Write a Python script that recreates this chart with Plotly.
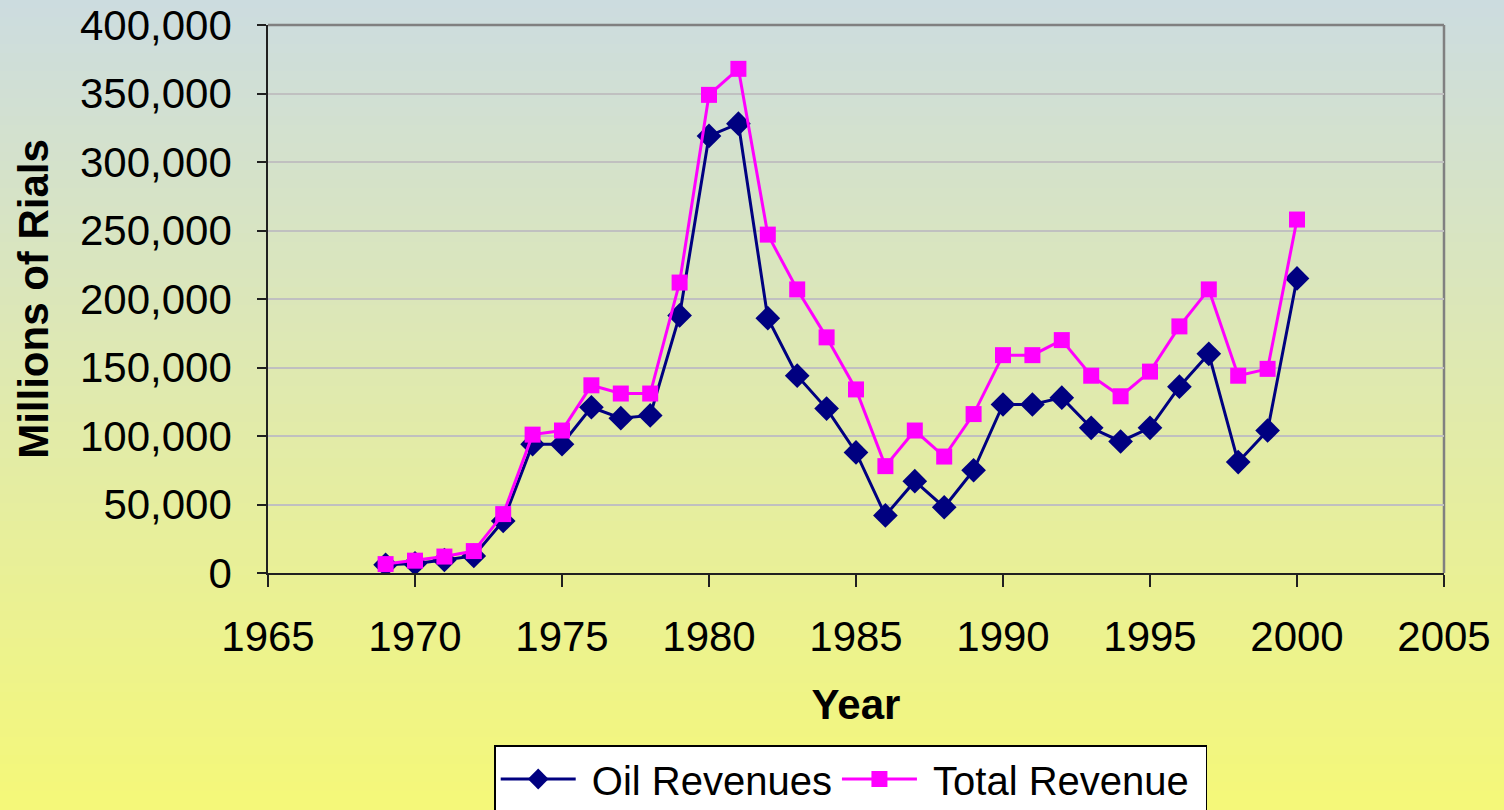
import plotly.graph_objects as go

years = list(range(1969, 2001))
oil_revenues = [6000, 7000, 9500, 12500, 38000, 94000, 94000, 121000, 113000, 115000,
                188000, 319000, 328000, 186000, 144000, 120000, 88000, 42000, 67000, 48000,
                75000, 123000, 123000, 128000, 106000, 96000, 106000, 136000, 160000, 81000,
                104000, 215000]
total_revenue = [6500, 9000, 12000, 16000, 43000, 101000, 104000, 137000, 131000, 131000,
                 212000, 349000, 368000, 247000, 207000, 172000, 134000, 78000, 104000, 85000,
                 116000, 159000, 159000, 170000, 144000, 129000, 147000, 180000, 207000, 144000,
                 149000, 258000]
x_ticks = [1965, 1970, 1975, 1980, 1985, 1990, 1995, 2000, 2005]
y_ticks = [0, 50000, 100000, 150000, 200000, 250000, 300000, 350000, 400000]

W, H = 1504, 810
L, R, T, B = 268, 60, 25, 237
pw, ph = W - L - R, H - T - B
FONT = "Arial, Liberation Sans, sans-serif"
FS = 42
NB = "\u00a0"

fig = go.Figure()
fig.add_trace(go.Scatter(
    x=years, y=oil_revenues, name=NB + "Oil Revenues", mode="lines+markers",
    line=dict(color="#000080", width=3),
    marker=dict(symbol="diamond", size=19, color="#000080"),
))
fig.add_trace(go.Scatter(
    x=years, y=total_revenue, name=NB + "Total Revenue" + NB, mode="lines+markers",
    line=dict(color="#FF00FF", width=3),
    marker=dict(symbol="square", size=16, color="#FF00FF"),
))

# background gradient bands
shapes = []
n = 90
top = (204, 220, 224)
bot = (245, 248, 120)
for i in range(n):
    p0 = H * i / n - 1
    p1 = H * (i + 1) / n + 1
    t = (i + 0.5) / n
    c = tuple(int(round(top[k] + (bot[k] - top[k]) * t)) for k in range(3))
    shapes.append(dict(
        type="rect", xref="paper", yref="paper", layer="below",
        x0=-(L + 5) / pw, x1=(W - L + 5) / pw,
        y0=(H - B - p1) / ph, y1=(H - B - p0) / ph,
        fillcolor="rgb(%d,%d,%d)" % c, line=dict(width=0),
    ))
# gray plot border (top/right)
shapes.append(dict(type="line", xref="paper", yref="paper", x0=0, x1=1, y0=1, y1=1,
                   line=dict(color="#808080", width=2.5), layer="between"))
shapes.append(dict(type="line", xref="paper", yref="paper", x0=1, x1=1, y0=0, y1=1,
                   line=dict(color="#808080", width=2.5), layer="between"))

fig.update_layout(
    width=W, height=H,
    margin=dict(l=L, r=R, t=T, b=B, autoexpand=False),
    paper_bgcolor="rgb(225,234,171)",
    plot_bgcolor="rgba(0,0,0,0)",
    shapes=shapes,
    font=dict(family=FONT, size=FS, color="black"),
    showlegend=True,
    legend=dict(
        orientation="h", x=0.4955, xanchor="center", y=(H - B - 745) / ph, yanchor="top",
        bgcolor="white", bordercolor="black", borderwidth=1.5,
        font=dict(family=FONT, size=40, color="black"),
        itemwidth=75, tracegroupgap=0,
    ),
    xaxis=dict(
        range=[1965, 2005], tickvals=x_ticks, ticktext=[str(v) for v in x_ticks],
        showgrid=False, zeroline=False, automargin=False,
        showline=True, linecolor="#202020", linewidth=1.5,
        ticks="outside", ticklen=12, tickwidth=1.5, tickcolor="#202020",
        ticklabelstandoff=14,
        title=dict(text="<b>Year</b>", font=dict(family=FONT, size=FS), standoff=30),
    ),
    yaxis=dict(
        range=[0, 400000], tickvals=y_ticks, tickformat=",d",
        showgrid=True, gridcolor="#C0C0C0", gridwidth=1.5, zeroline=False, automargin=False,
        showline=True, linecolor="#202020", linewidth=1.5,
        ticks="outside", ticklen=9, tickwidth=1.5, tickcolor="#202020",
        ticklabelstandoff=17,
        title=dict(text="<b>Millions of Rials</b>", font=dict(family=FONT, size=FS), standoff=18),
    ),
)

fig.write_html(
    "out.html",
    config={"displayModeBar": False},
    post_script="document.body.style.margin='0px';document.body.style.overflow='hidden';",
)
